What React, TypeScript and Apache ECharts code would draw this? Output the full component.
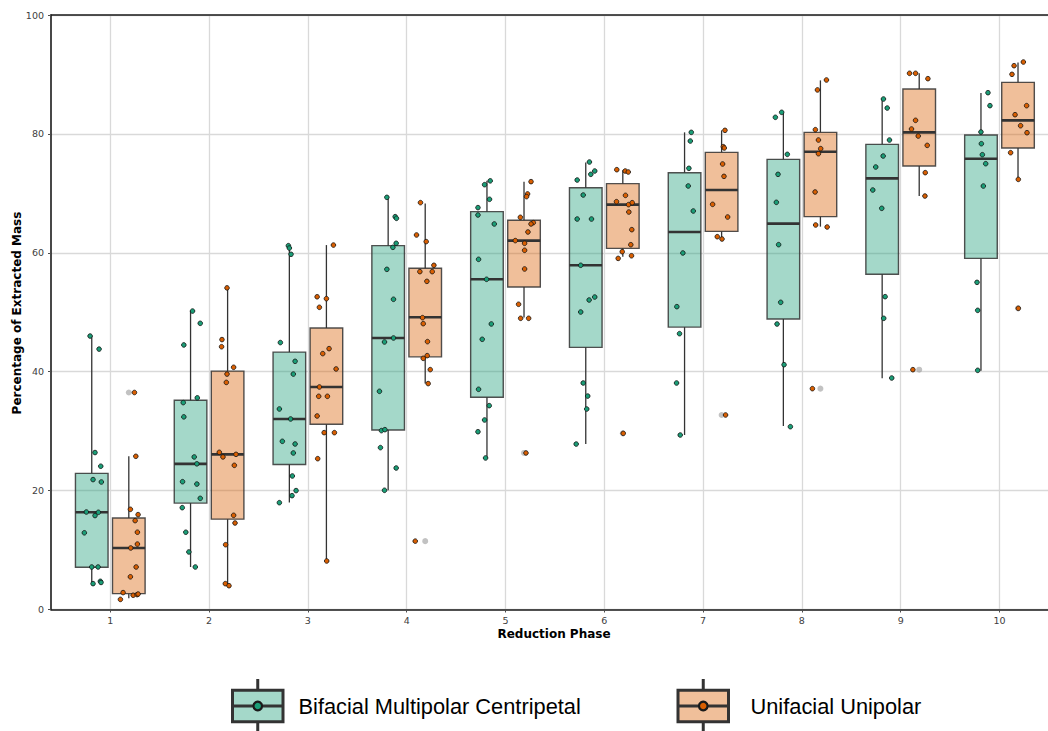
import React, { useEffect, useRef } from "react";
import * as echarts from "echarts";

// Reduction phases on the x axis
const phases = [1, 2, 3, 4, 5, 6, 7, 8, 9, 10];
const groupNames = ["Bifacial Multipolar Centripetal", "Unifacial Unipolar"];

// Box statistics per phase: [lower whisker, Q1, median, Q3, upper whisker]
const bmcBoxes = [
  [4.35, 7.1, 16.35, 22.9, 46.0],
  [7.15, 17.9, 24.5, 35.2, 50.2],
  [18.0, 24.4, 32.05, 43.3, 61.2],
  [20.05, 30.2, 45.67, 61.2, 69.33],
  [25.49, 35.7, 55.54, 66.92, 72.1],
  [27.83, 44.1, 57.9, 70.95, 75.2],
  [29.35, 47.5, 63.5, 73.47, 80.26],
  [30.87, 48.86, 64.9, 75.72, 83.63],
  [38.88, 56.38, 72.52, 78.24, 85.87],
  [40.17, 59.07, 75.83, 79.81, 86.88],
];
const uuBoxes = [
  [1.9, 2.67, 10.35, 15.4, 25.77],
  [4.0, 15.2, 26.1, 40.1, 54.1],
  [8.16, 31.15, 37.43, 47.35, 61.3],
  [38.0, 42.5, 49.15, 57.4, 68.3],
  [49.1, 54.25, 62.05, 65.47, 71.97],
  [59.35, 60.75, 68.1, 71.63, 73.9],
  [62.4, 63.6, 70.56, 76.9, 80.6],
  [64.4, 66.08, 77.01, 80.26, 89.0],
  [69.55, 74.6, 80.26, 87.55, 90.2],
  [72.35, 77.63, 82.28, 88.67, 92.0],
];

// Outliers flagged by the boxplot: [phase, value]
const uuOutliers = [
  [1, 36.5],
  [4, 11.5],
  [5, 26.33],
  [6, 29.63],
  [7, 32.72],
  [8, 37.15],
  [9, 40.34],
  [10, 50.66],
];

// Individual observations per phase: [value, horizontal jitter]
const bmcPoints = [
  [[46.0, -0.017], [43.8, 0.074], [26.4, 0.033], [24.1, 0.091], [21.85, 0.013], [21.45, 0.097], [16.4, -0.055], [16.35, 0.067], [15.8, 0.033], [12.9, -0.075], [7.15, 0.0], [7.15, 0.064], [4.35, 0.013], [4.74, 0.087], [4.55, 0.094]],
  [[50.2, 0.02], [48.14, 0.098], [44.5, -0.068], [35.6, 0.068], [34.8, -0.074], [32.4, -0.068], [25.66, 0.037], [24.5, 0.064], [21.5, -0.081], [21.1, 0.064], [18.7, 0.098], [17.13, -0.084], [13.0, -0.048], [9.68, -0.017], [7.15, 0.048]],
  [[61.2, -0.01], [60.8, 0.0], [59.75, 0.017], [44.9, -0.091], [41.75, 0.058], [39.6, 0.04], [33.73, -0.101], [32.05, 0.013], [28.29, -0.071], [27.84, 0.058], [26.33, 0.04], [22.46, 0.03], [20.0, 0.068], [19.15, 0.027], [17.97, -0.101]],
  [[69.33, -0.013], [66.08, 0.071], [65.8, 0.084], [61.6, 0.081], [60.92, 0.048], [57.22, -0.013], [52.18, 0.054], [45.67, 0.054], [45.0, -0.037], [36.7, -0.088], [30.09, -0.068], [30.25, -0.033], [27.23, -0.078], [23.8, 0.081], [20.05, -0.037]],
  [[72.1, 0.033], [71.46, -0.024], [69.0, 0.026], [67.6, -0.091], [66.36, -0.091], [64.85, 0.074], [58.9, -0.085], [55.54, -0.004], [48.03, 0.044], [45.45, -0.048], [37.04, -0.085], [34.29, 0.023], [31.88, -0.024], [29.9, -0.091], [25.49, -0.014]],
  [[75.27, 0.037], [73.76, 0.091], [73.2, 0.051], [72.24, -0.087], [69.72, -0.026], [65.68, -0.087], [65.68, 0.058], [57.9, -0.051], [52.56, 0.091], [52.06, 0.034], [50.04, -0.051], [38.1, -0.026], [35.9, 0.02], [33.72, 0.01], [27.83, -0.097]],
  [[80.26, 0.068], [78.8, 0.058], [74.21, 0.044], [71.24, 0.037], [67.03, 0.088], [59.97, -0.017], [50.94, -0.078], [46.4, -0.051], [38.1, -0.081], [29.35, -0.044]],
  [[83.63, -0.017], [82.79, -0.081], [76.56, 0.04], [73.2, -0.054], [68.49, -0.071], [61.37, -0.048], [51.67, -0.027], [48.02, -0.064], [41.18, 0.007], [30.75, 0.071]],
  [[85.87, 0.013], [84.35, 0.051], [78.97, 0.074], [76.28, 0.01], [74.43, -0.065], [70.56, -0.095], [67.48, -0.004], [52.62, 0.03], [48.98, 0.016], [38.94, 0.097]],
  [[86.93, 0.071], [84.75, 0.091], [80.32, 0.0], [78.35, 0.004], [76.5, 0.014], [74.99, 0.048], [71.23, 0.024], [55.03, -0.04], [50.32, -0.033], [40.23, -0.033]],
];
const uuPoints = [
  [[36.5, 0.057], [25.77, 0.071], [16.85, 0.016], [15.96, 0.094], [14.95, 0.064], [13.0, 0.087], [11.0, 0.087], [10.35, 0.02], [7.15, 0.074], [5.5, 0.016], [2.84, -0.058], [1.7, -0.085], [2.4, 0.044], [2.5, 0.084], [2.6, 0.094]],
  [[54.1, -0.006], [45.4, -0.057], [44.2, -0.061], [40.74, 0.061], [39.6, -0.006], [38.2, -0.013], [26.44, -0.084], [25.66, -0.047], [26.1, 0.085], [24.25, 0.068], [15.84, 0.061], [14.55, 0.075], [10.9, -0.02], [4.35, -0.023], [4.0, 0.014]],
  [[61.3, 0.071], [52.6, -0.094], [52.29, 0.0], [50.83, -0.071], [43.88, 0.027], [43.04, -0.037], [40.46, 0.098], [37.43, -0.071], [35.86, -0.078], [35.86, 0.01], [32.55, -0.094], [29.75, -0.023], [29.75, 0.081], [25.37, -0.088], [8.16, 0.003]],
  [[68.44, -0.048], [63.0, -0.088], [61.88, 0.01], [57.9, 0.088], [56.83, -0.054], [56.83, 0.071], [55.2, 0.017], [49.09, -0.027], [48.08, -0.02], [45.06, 0.023], [42.7, 0.02], [42.25, -0.02], [40.35, 0.051], [38.0, 0.03], [11.5, -0.101]],
  [[71.97, 0.071], [69.9, 0.036], [69.45, 0.026], [65.97, -0.037], [65.07, 0.094], [64.85, 0.071], [63.5, 0.04], [62.05, -0.088], [61.6, 0.006], [60.42, 0.006], [57.28, 0.006], [51.34, -0.055], [48.98, -0.034], [48.98, 0.047], [26.33, 0.02]],
  [[73.98, -0.061], [73.76, 0.024], [73.59, 0.055], [69.66, 0.027], [68.6, -0.064], [68.1, 0.058], [68.43, 0.095], [66.86, 0.061], [63.89, 0.091], [61.36, 0.081], [60.19, -0.006], [59.06, -0.047], [59.5, 0.088], [29.63, 0.004]],
  [[80.6, 0.034], [77.85, 0.017], [77.63, 0.027], [74.94, 0.01], [72.86, 0.024], [68.15, -0.091], [66.02, 0.061], [62.71, -0.044], [62.32, 0.004], [32.72, 0.04]],
  [[89.07, 0.061], [87.4, -0.03], [80.71, -0.051], [78.97, -0.02], [77.52, 0.003], [76.67, -0.02], [70.23, -0.054], [64.68, -0.048], [64.34, 0.068], [37.15, -0.081]],
  [[90.19, -0.098], [90.19, -0.037], [89.29, 0.088], [82.28, -0.037], [80.82, -0.078], [79.64, -0.01], [78.07, 0.081], [73.48, 0.061], [69.55, 0.058], [40.34, -0.064]],
  [[92.09, 0.054], [91.47, -0.04], [90.02, -0.061], [84.75, 0.087], [83.23, -0.03], [81.38, 0.026], [80.2, 0.091], [76.84, -0.075], [72.35, 0.003], [50.66, 0.003]],
];

const yTicks = [0, 20, 40, 60, 80, 100];

const DODGE = 0.1875;
const BOX_WIDTH = 0.33;
const boxFill = ["rgba(27,158,119,0.4)", "rgba(217,95,2,0.4)"];
const pointFill = ["#1b9e77", "#d95f02"];
const INK = "#333333";

function boxSeries(stats: number[][], offset: number, fill: string, name: string) {
  return {
    type: "custom",
    name,
    data: stats.map((s, i) => [phases[i] + offset, ...s]),
    encode: { x: 0, y: [1, 2, 3, 4, 5] },
    clip: false,
    renderItem: (params: any, api: any) => {
      const x = api.value(0);
      const lo = api.coord([x, api.value(1)]);
      const q1 = api.coord([x, api.value(2)]);
      const med = api.coord([x, api.value(3)]);
      const q3 = api.coord([x, api.value(4)]);
      const hi = api.coord([x, api.value(5)]);
      const half = api.size([BOX_WIDTH, 0])[0] / 2;
      const cx = lo[0];
      return {
        type: "group",
        children: [
          { type: "line", shape: { x1: cx, y1: q3[1], x2: cx, y2: hi[1] }, style: { stroke: INK, lineWidth: 1.3 } },
          { type: "line", shape: { x1: cx, y1: q1[1], x2: cx, y2: lo[1] }, style: { stroke: INK, lineWidth: 1.3 } },
          {
            type: "rect",
            shape: { x: cx - half, y: q3[1], width: half * 2, height: q1[1] - q3[1] },
            style: { fill, stroke: "rgba(51,51,51,0.85)", lineWidth: 1.4 },
          },
          { type: "line", shape: { x1: cx - half, y1: med[1], x2: cx + half, y2: med[1] }, style: { stroke: INK, lineWidth: 2.6 } },
        ],
      };
    },
    z: 2,
  };
}

function pointSeries(points: number[][][], offset: number, color: string, name: string) {
  const data: number[][] = [];
  points.forEach((grp, i) => {
    grp.forEach(([v, j]) => data.push([phases[i] + offset + j, v]));
  });
  return {
    type: "scatter",
    name,
    data,
    symbol: "circle",
    symbolSize: 4.6,
    itemStyle: { color, borderColor: "#111", borderWidth: 0.8, opacity: 1 },
    z: 4,
  };
}

function legendItem(x0: number, textX: number, label: string, fill: string, dot: string) {
  const w = 50.5;
  const cx = x0 + w / 2;
  return {
    type: "group",
    children: [
      { type: "line", shape: { x1: cx, y1: 679, x2: cx, y2: 690 }, style: { stroke: INK, lineWidth: 3 } },
      { type: "line", shape: { x1: cx, y1: 722, x2: cx, y2: 733 }, style: { stroke: INK, lineWidth: 3 } },
      { type: "rect", shape: { x: x0, y: 690.2, width: w, height: 31.6 }, style: { fill, stroke: INK, lineWidth: 3 } },
      { type: "line", shape: { x1: x0, y1: 706, x2: x0 + w, y2: 706 }, style: { stroke: INK, lineWidth: 3 } },
      { type: "circle", shape: { cx, cy: 706, r: 4.3 }, style: { fill: dot, stroke: "#1a1a1a", lineWidth: 2.2 } },
      {
        type: "text",
        x: textX,
        y: 706,
        style: { text: label, fontSize: 21.8, fontFamily: "Liberation Sans, Arial, sans-serif", fill: "#000", verticalAlign: "middle", align: "left" },
      },
    ],
  };
}

export default function App() {
  const ref = useRef<HTMLDivElement>(null);

  useEffect(() => {
    document.body.style.margin = "0";
    if (!ref.current) return;
    const chart = echarts.init(ref.current, null, { renderer: "svg" });
    const axisLineStyle = { color: "#1a1a1a", width: 1.6 };
    const tickFont = { fontSize: 9.5, color: "#404040", fontFamily: "DejaVu Sans, Verdana, sans-serif" };
    const gridStyle = { color: "#d9d9d9", width: 1.3 };

    chart.setOption({
      animation: false,
      backgroundColor: "#ffffff",
      grid: { left: 51, right: 0, top: 15, bottom: 121.5, containLabel: false },
      xAxis: [
        {
          type: "value",
          min: 0.4,
          max: 10.491,
          position: "bottom",
          axisLine: { show: true, onZero: false, lineStyle: axisLineStyle },
          axisTick: { show: true, customValues: phases, length: 3, lineStyle: { color: "#4d4d4d", width: 1 } },
          axisLabel: { show: true, customValues: phases, margin: 6, ...tickFont, formatter: (v: number) => String(v) },
          splitLine: { show: true, lineStyle: gridStyle },
        },
        {
          type: "value",
          min: 0.4,
          max: 10.491,
          position: "top",
          axisLine: { show: true, onZero: false, lineStyle: axisLineStyle },
          axisTick: { show: false },
          axisLabel: { show: false },
          splitLine: { show: false },
        },
      ],
      yAxis: {
        type: "value",
        min: yTicks[0],
        max: yTicks[yTicks.length - 1],
        interval: 20,
        axisLine: { show: true, onZero: false, lineStyle: axisLineStyle },
        axisTick: { show: true, length: 3, lineStyle: { color: "#4d4d4d", width: 1 } },
        axisLabel: { margin: 7, ...tickFont },
        splitLine: { show: true, lineStyle: gridStyle },
      },
      series: [
        boxSeries(bmcBoxes, -DODGE, boxFill[0], groupNames[0]),
        boxSeries(uuBoxes, DODGE, boxFill[1], groupNames[1]),
        {
          type: "scatter",
          name: "outliers",
          data: uuOutliers.map(([p, v]) => [p + DODGE, v]),
          symbolSize: 6,
          itemStyle: { color: "rgba(153,153,153,0.75)" },
          z: 3,
        },
        pointSeries(bmcPoints, -DODGE, pointFill[0], groupNames[0]),
        pointSeries(uuPoints, DODGE, pointFill[1], groupNames[1]),
      ],
      graphic: [
        {
          type: "text",
          x: 554,
          y: 634,
          style: {
            text: "Reduction Phase",
            fontSize: 12,
            fontWeight: "bold",
            fontFamily: "DejaVu Sans, Verdana, sans-serif",
            fill: "#000",
            align: "center",
            verticalAlign: "middle",
          },
        },
        {
          type: "text",
          x: 17,
          y: 313,
          rotation: Math.PI / 2,
          style: {
            text: "Percentage of Extracted Mass",
            fontSize: 12,
            fontWeight: "bold",
            fontFamily: "DejaVu Sans, Verdana, sans-serif",
            fill: "#000",
            align: "center",
            verticalAlign: "middle",
          },
        },
        legendItem(232.5, 298.5, groupNames[0], boxFill[0], pointFill[0]),
        legendItem(678, 750.5, groupNames[1], boxFill[1], pointFill[1]),
      ],
    });
    return () => chart.dispose();
  }, []);

  return <div ref={ref} style={{ width: 1048, height: 731 }} />;
}
